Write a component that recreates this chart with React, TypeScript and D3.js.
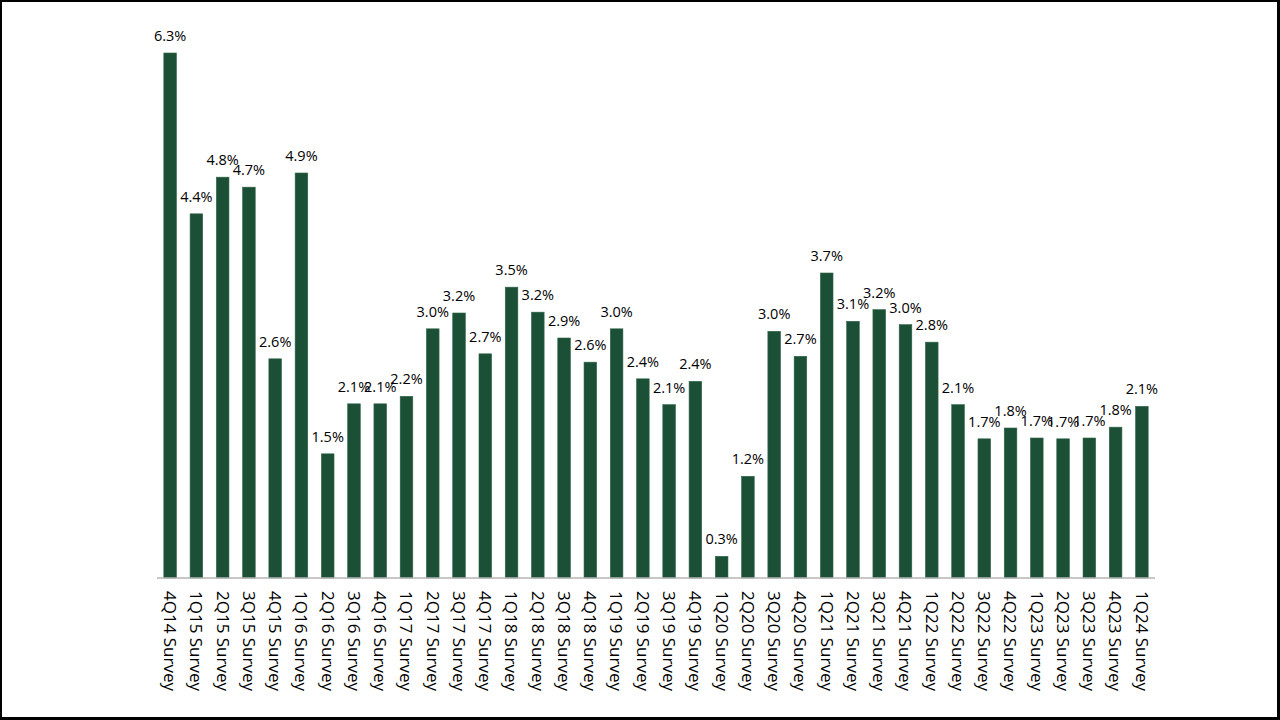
import React from "react";
import * as d3 from "d3";

const categories: string[] = [
  "4Q14 Survey", "1Q15 Survey", "2Q15 Survey", "3Q15 Survey", "4Q15 Survey",
  "1Q16 Survey", "2Q16 Survey", "3Q16 Survey", "4Q16 Survey", "1Q17 Survey",
  "2Q17 Survey", "3Q17 Survey", "4Q17 Survey", "1Q18 Survey", "2Q18 Survey",
  "3Q18 Survey", "4Q18 Survey", "1Q19 Survey", "2Q19 Survey", "3Q19 Survey",
  "4Q19 Survey", "1Q20 Survey", "2Q20 Survey", "3Q20 Survey", "4Q20 Survey",
  "1Q21 Survey", "2Q21 Survey", "3Q21 Survey", "4Q21 Survey", "1Q22 Survey",
  "2Q22 Survey", "3Q22 Survey", "4Q22 Survey", "1Q23 Survey", "2Q23 Survey",
  "3Q23 Survey", "4Q23 Survey", "1Q24 Survey",
];

const values: number[] = [
  6.3, 4.37, 4.81, 4.69, 2.63,
  4.86, 1.49, 2.09, 2.09, 2.18,
  2.99, 3.18, 2.69, 3.49, 3.19,
  2.88, 2.59, 2.99, 2.39, 2.08,
  2.36, 0.26, 1.22, 2.96, 2.66,
  3.66, 3.08, 3.22, 3.04, 2.83,
  2.08, 1.67, 1.8, 1.68, 1.67,
  1.68, 1.81, 2.06,
];

const W = 1280;
const H = 720;
const FONT = "'Open Sans', 'Noto Sans', sans-serif";
const BAR = "#1c5036";

export default function App() {
  const x = d3.scaleBand<string>().domain(categories).range([157, 1155]).paddingInner(0.52).paddingOuter(0.26);
  const y = d3.scaleLinear().domain([0, 6.3]).range([578, 53]);
  const fmt = d3.format(".1f");

  return (
    <svg width={W} height={H} style={{ position: "fixed", left: 0, top: 0 }}>
      <rect x={0} y={0} width={W} height={H} fill="#000" />
      <rect x={2} y={2} width={1275} height={715} fill="#fff" />
      {categories.map((c, i) => (
        <rect
          key={c}
          x={x(c)}
          y={y(values[i])}
          width={x.bandwidth()}
          height={y(0) - y(values[i])}
          fill={BAR}
          stroke="#2e6448"
          strokeWidth={0.6}
        />
      ))}
      <line x1={157} x2={1155} y1={y(0)} y2={y(0)} stroke="#b4b4b4" strokeWidth={1.5} />
      {categories.map((c, i) => (
        <text
          key={"v" + c}
          x={(x(c) as number) + x.bandwidth() / 2}
          y={y(values[i]) - 12}
          textAnchor="middle"
          fontFamily={FONT}
          fontSize={14.5}
          fill="#000"
        >
          {fmt(values[i]) + "%"}
        </text>
      ))}
      {categories.map((c) => {
        const cx = (x(c) as number) + x.bandwidth() / 2;
        return (
          <text
            key={"l" + c}
            transform={`translate(${cx},${591}) rotate(90)`}
            textAnchor="start"
            dy="0.36em"
            fontFamily={FONT}
            fontSize={17}
            fill="#000"
          >
            {c}
          </text>
        );
      })}
    </svg>
  );
}
